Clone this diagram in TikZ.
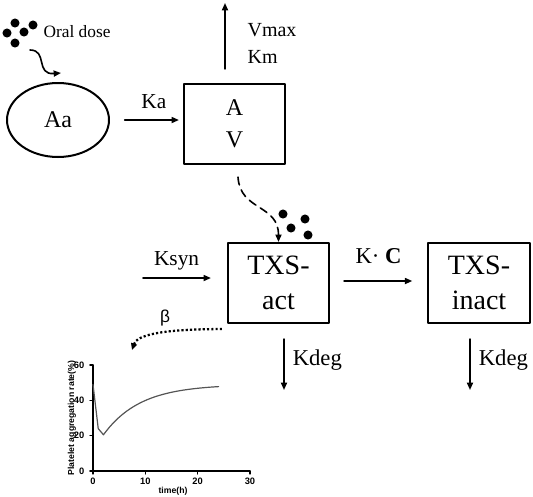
\documentclass[tikz,border=0pt]{standalone}
\usepackage{fontspec}
\setmainfont{Liberation Serif}
\newfontfamily\plotfont{Liberation Sans}
\usetikzlibrary{arrows.meta,shapes.geometric,calc}
\definecolor{CurveGray}{HTML}{555555}

\begin{document}
\begin{tikzpicture}[x=0.75pt,y=-0.75pt,line cap=round,line join=round,
  flow/.style={line width=1.2pt,-{Triangle[length=5.5pt,width=4.5pt]}},
  comp/.style={draw,line width=1.6pt,minimum width=75.75pt,minimum height=60pt,align=center,inner sep=0pt},
  pill/.style={fill,circle,inner sep=0pt,minimum size=6.8pt},
  lab/.style={inner sep=1pt,font=\fontsize{#1}{#1}\selectfont}]
  \useasboundingbox (0,0) rectangle (533,497);
  % oral dose
  \foreach \p [count=\i] in {(15,23),(33,25),(7,33),(24,32),(15,43)} \node[pill] (od\i) at \p {};
  \node[anchor=base west,lab=13] (oral) at (42,37) {Oral dose};
  \coordinate (dosein) at (30,50);
  \node[draw,ellipse,line width=1.5pt,minimum width=76.5pt,minimum height=55.5pt,font=\fontsize{18}{20}\selectfont] (aa) at (58,120) {Aa};
  \draw[flow] (dosein) .. controls +(18,0) and +(-26,2) .. ([shift={(3,-9)}]aa.north);
  % central compartment
  \node[comp,font=\fontsize{18}{24}\selectfont] (av) at (234.5,124) {A\\V};
  \draw[flow,shorten >=3pt] ([xshift=11pt]aa.east) -- node[above=6.5pt,lab=16] (ka) {Ka} (av.west |- aa.east);
  \coordinate (vtop) at (225,3);
  \draw[flow] ([shift={(-9.5,-14)}]av.north) -- (vtop);
  \node[anchor=base west,lab=15] (vmax) at (246,36) {Vmax};
  \node[anchor=base west,lab=15] (km) at (246,63) {Km};
  % enzyme
  \node[comp,font=\fontsize{21}{26}\selectfont] (txsact) at (278.5,283) {TXS-\\act};
  \node[comp,minimum width=76.5pt,font=\fontsize{21}{26}\selectfont] (txsinact) at (479,283) {TXS-\\inact};
  \draw[flow,dashed,dash pattern=on 6pt off 4pt] ([shift={(3.5,12)}]av.south) .. controls +(2,34) and +(0,-38) .. (txsact.north);
  \foreach \p [count=\i] in {(283,214),(305,219),(291,228),(308,235)} \node[pill] (td\i) at \p {};
  \coordinate (syn) at (143,278);
  \draw[flow,shorten >=12pt] (syn) -- node[pos=0.4,above=4.5pt,lab=16] (ksyn) {Ksyn} (syn -| txsact.west);
  \draw[flow,shorten <=10.5pt,shorten >=11pt] ([yshift=1.5pt]txsact.east) -- node[above=11.5pt,lab=17] (kc) {K· \textbf{C}} ([yshift=1.5pt]txsinact.west);
  \coordinate (deg1) at (284,390); \coordinate (deg2) at (470,390);
  \draw[flow] ([shift={(5.5,15)}]txsact.south) -- node[pos=0.42,right=5pt,lab=17] (kdeg1) {Kdeg} (deg1);
  \draw[flow] ([shift={(-9,15)}]txsinact.south) -- node[pos=0.42,right=5pt,lab=17] (kdeg2) {Kdeg} (deg2);
  % effect
  \coordinate (bend) at (132,350);
  \draw[line width=1.7pt,line cap=butt,dash pattern=on 1.6pt off 1.6pt,-{Triangle[length=5pt,width=4.5pt]}] ([shift={(-5,5)}]txsact.south west) .. controls +(-60,0) and +(5,-15) .. (bend);
  \node[inner sep=1pt,font=\plotfont\fontsize{13}{13}\selectfont] (beta) at (165,318) {β};
  \begin{scope}[shift={(93,471)},xscale=5.2333,yscale=-1.7667,font=\plotfont\bfseries\fontsize{7}{8}\selectfont]
    \draw[line width=0.8pt] (0,60) -- (0,0) -- (30,0);
    \foreach \t in {0,10,20,30} \draw[line width=0.8pt] (\t,0) -- ++(0,-1.7) node[below=-1pt] (xt\t) {\t};
    \foreach \v in {0,20,40,60} \draw[line width=0.8pt] (0,\v) -- ++(-0.6,0) node[left=0.5pt] (yt\v) {\v};
    \draw[CurveGray,line width=0.9pt] (0,49) -- (1,24) -- (2,20.5) -- plot[domain=2:24,samples=40,smooth] (\x,{49-28.5*exp(-(\x-2)/7)});
  \end{scope}
  \node[rotate=90,font=\plotfont\bfseries\fontsize{6.5}{7}\selectfont] (ylab) at (72,418) {Platelet aggregation rate(\%)};
  \node[font=\plotfont\bfseries\fontsize{6.5}{7}\selectfont] (xlab) at (173,491) {time(h)};
\end{tikzpicture}
\end{document}
